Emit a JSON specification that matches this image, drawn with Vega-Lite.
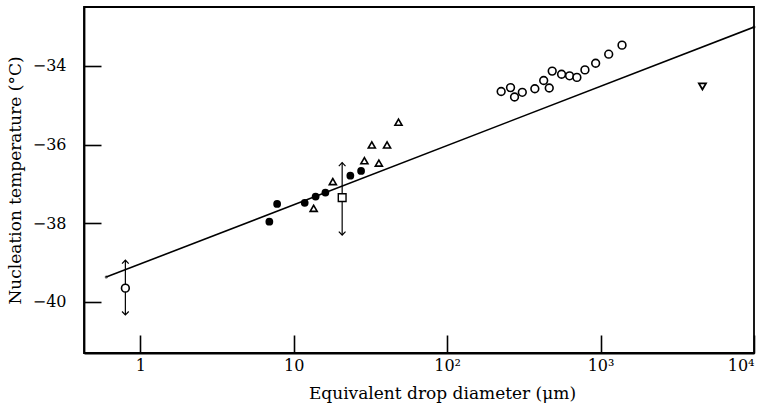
{
  "$schema": "https://vega.github.io/schema/vega-lite/v6.json",
  "width": 670,
  "height": 346,
  "autosize": {"type": "none"},
  "padding": {"left": 84, "top": 7, "right": 9, "bottom": 52},
  "background": "white",
  "resolve": {"axis": {"x": "independent", "y": "independent"}},
  "config": {
    "view": {"stroke": "black", "strokeWidth": 1.8},
    "font": "DejaVu Serif",
    "axis": {
      "domainColor": "black", "domainWidth": 1.8,
      "grid": false, "labelColor": "black", "titleColor": "black",
      "labelFont": "DejaVu Serif", "titleFont": "DejaVu Serif",
      "labelFontSize": 16, "titleFontSize": 17, "titleFontWeight": "normal"
    }
  },
  "datasets": {
    "pts": [
      {"d": 0.80, "t": -39.65, "kind": "open circle"},
      {"d": 6.94, "t": -37.96, "kind": "filled"},
      {"d": 7.8, "t": -37.51, "kind": "filled"},
      {"d": 11.8, "t": -37.48, "kind": "filled"},
      {"d": 13.9, "t": -37.32, "kind": "filled"},
      {"d": 16.1, "t": -37.22, "kind": "filled"},
      {"d": 23.4, "t": -36.79, "kind": "filled"},
      {"d": 27.5, "t": -36.67, "kind": "filled"},
      {"d": 13.5, "t": -37.62, "kind": "triangle"},
      {"d": 18.0, "t": -36.94, "kind": "triangle"},
      {"d": 28.9, "t": -36.41, "kind": "triangle"},
      {"d": 32.3, "t": -36.01, "kind": "triangle"},
      {"d": 35.9, "t": -36.47, "kind": "triangle"},
      {"d": 40.6, "t": -36.01, "kind": "triangle"},
      {"d": 48.2, "t": -35.43, "kind": "triangle"},
      {"d": 20.7, "t": -37.35, "kind": "square"},
      {"d": 225, "t": -34.65, "kind": "open circle"},
      {"d": 259, "t": -34.55, "kind": "open circle"},
      {"d": 275, "t": -34.79, "kind": "open circle"},
      {"d": 309, "t": -34.67, "kind": "open circle"},
      {"d": 373, "t": -34.58, "kind": "open circle"},
      {"d": 426, "t": -34.37, "kind": "open circle"},
      {"d": 463, "t": -34.56, "kind": "open circle"},
      {"d": 484, "t": -34.13, "kind": "open circle"},
      {"d": 557, "t": -34.21, "kind": "open circle"},
      {"d": 628, "t": -34.25, "kind": "open circle"},
      {"d": 701, "t": -34.29, "kind": "open circle"},
      {"d": 791, "t": -34.10, "kind": "open circle"},
      {"d": 929, "t": -33.93, "kind": "open circle"},
      {"d": 1130, "t": -33.70, "kind": "open circle"},
      {"d": 1380, "t": -33.47, "kind": "open circle"},
      {"d": 4613, "t": -34.52, "kind": "inverted triangle"}
    ],
    "fit": [
      {"d": 0.6, "t": -39.37},
      {"d": 10000, "t": -33.01}
    ],
    "bars": [
      {"d": 0.80, "lo": -40.33, "hi": -38.94},
      {"d": 20.7, "lo": -38.30, "hi": -36.46}
    ],
    "heads": [
      {"d": 0.80, "t": -38.94, "dir": "up"},
      {"d": 0.80, "t": -40.33, "dir": "down"},
      {"d": 20.7, "t": -36.46, "dir": "up"},
      {"d": 20.7, "t": -38.30, "dir": "down"}
    ]
  },
  "layer": [
    {
      "data": {"name": "fit"},
      "mark": {"type": "line", "color": "black", "strokeWidth": 1.6, "clip": true},
      "encoding": {
        "x": {
          "field": "d", "type": "quantitative",
          "scale": {"type": "log", "domain": [0.43, 10000], "nice": false},
          "axis": {
            "orient": "bottom",
            "values": [1, 10, 100, 1000, 10000],
            "labelExpr": "datum.value == 1 ? '1' : datum.value == 10 ? '10' : datum.value == 100 ? '10²' : datum.value == 1000 ? '10³' : '10⁴'",
            "ticks": false, "labelPadding": 4, "labelFlush": true,
            "title": "Equivalent drop diameter (μm)", "titlePadding": 12,
            "titleX": 358, "titleAlign": "center"
          }
        },
        "y": {
          "field": "t", "type": "quantitative",
          "scale": {"domain": [-41.3, -32.5], "nice": false, "zero": false},
          "axis": {
            "orient": "left",
            "values": [-40, -38, -36, -34],
            "ticks": false, "labelPadding": 18,
            "title": "Nucleation temperature (°C)", "titlePadding": 8
          }
        }
      }
    },
    {
      "data": {"name": "fit"},
      "mark": {"type": "point", "color": "black", "size": 1},
      "encoding": {
        "x": {"field": "d", "type": "quantitative",
          "axis": {"orient": "bottom", "offset": -18, "values": [1, 10, 100, 1000, 10000], "tickSize": 18, "tickColor": "black", "tickWidth": 1.6, "labels": false, "domain": false, "title": null}},
        "y": {"field": "t", "type": "quantitative",
          "axis": {"orient": "left", "offset": -17, "values": [-40, -38, -36, -34], "tickSize": 17, "tickColor": "black", "tickWidth": 1.6, "labels": false, "domain": false, "title": null}}
      }
    },
    {
      "data": {"name": "bars"},
      "mark": {"type": "rule", "color": "black", "strokeWidth": 1.2},
      "encoding": {
        "x": {"field": "d", "type": "quantitative", "axis": null},
        "y": {"field": "lo", "type": "quantitative", "axis": null},
        "y2": {"field": "hi"}
      }
    },
    {
      "data": {"name": "heads"},
      "transform": [{"filter": "datum.dir == 'up'"}],
      "mark": {"type": "point", "shape": "M-1,1L0,0L1,1", "filled": false, "stroke": "black", "strokeWidth": 1.2, "size": 45, "opacity": 1},
      "encoding": {
        "x": {"field": "d", "type": "quantitative", "axis": null},
        "y": {"field": "t", "type": "quantitative", "axis": null}
      }
    },
    {
      "data": {"name": "heads"},
      "transform": [{"filter": "datum.dir == 'down'"}],
      "mark": {"type": "point", "shape": "M-1,-1L0,0L1,-1", "filled": false, "stroke": "black", "strokeWidth": 1.2, "size": 45, "opacity": 1},
      "encoding": {
        "x": {"field": "d", "type": "quantitative", "axis": null},
        "y": {"field": "t", "type": "quantitative", "axis": null}
      }
    },
    {
      "data": {"name": "pts"},
      "transform": [{"filter": "datum.kind == 'filled'"}],
      "mark": {"type": "point", "shape": "circle", "filled": true, "color": "black", "size": 60, "opacity": 1},
      "encoding": {
        "x": {"field": "d", "type": "quantitative", "axis": null},
        "y": {"field": "t", "type": "quantitative", "axis": null}
      }
    },
    {
      "data": {"name": "pts"},
      "transform": [{"filter": "datum.kind == 'open circle'"}],
      "mark": {"type": "point", "shape": "circle", "filled": true, "fill": "white", "stroke": "black", "strokeWidth": 1.6, "size": 60, "opacity": 1},
      "encoding": {
        "x": {"field": "d", "type": "quantitative", "axis": null},
        "y": {"field": "t", "type": "quantitative", "axis": null}
      }
    },
    {
      "data": {"name": "pts"},
      "transform": [{"filter": "datum.kind == 'triangle'"}],
      "mark": {"type": "point", "shape": "triangle-up", "filled": true, "fill": "white", "stroke": "black", "strokeWidth": 1.6, "size": 50, "opacity": 1},
      "encoding": {
        "x": {"field": "d", "type": "quantitative", "axis": null},
        "y": {"field": "t", "type": "quantitative", "axis": null}
      }
    },
    {
      "data": {"name": "pts"},
      "transform": [{"filter": "datum.kind == 'square'"}],
      "mark": {"type": "point", "shape": "square", "filled": true, "fill": "white", "stroke": "black", "strokeWidth": 1.4, "size": 60, "opacity": 1},
      "encoding": {
        "x": {"field": "d", "type": "quantitative", "axis": null},
        "y": {"field": "t", "type": "quantitative", "axis": null}
      }
    },
    {
      "data": {"name": "pts"},
      "transform": [{"filter": "datum.kind == 'inverted triangle'"}],
      "mark": {"type": "point", "shape": "triangle-down", "filled": true, "fill": "white", "stroke": "black", "strokeWidth": 1.8, "size": 50, "opacity": 1},
      "encoding": {
        "x": {"field": "d", "type": "quantitative", "axis": null},
        "y": {"field": "t", "type": "quantitative", "axis": null}
      }
    }
  ]
}
